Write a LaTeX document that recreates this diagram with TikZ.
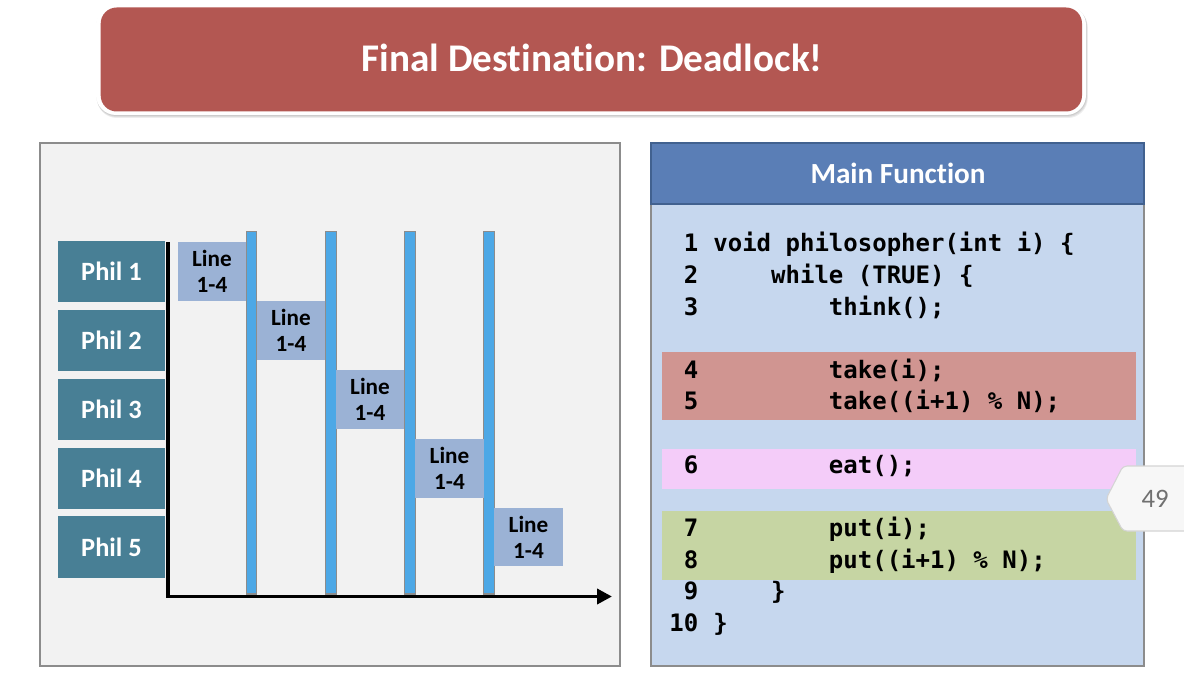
\documentclass[tikz,border=0pt]{standalone}
\usepackage{fontspec}
\setmainfont{Carlito}[Ligatures=NoCommon]
\newfontfamily\codefont{DejaVu Sans Mono}
\usetikzlibrary{arrows.meta}
\definecolor{titlered}{HTML}{B35752}
\definecolor{panelbg}{HTML}{F2F2F2}
\definecolor{panelline}{HTML}{8C8C8C}
\definecolor{philc}{HTML}{487F95}
\definecolor{linec}{HTML}{9BB2D5}
\definecolor{barc}{HTML}{4DA8E6}
\definecolor{headc}{HTML}{5A7EB6}
\definecolor{headline}{HTML}{41618F}
\definecolor{bodyc}{HTML}{C6D7EE}
\definecolor{redhl}{HTML}{D09591}
\definecolor{pinkhl}{HTML}{F4CCF9}
\definecolor{greenhl}{HTML}{C6D5A3}
\definecolor{tabfill}{HTML}{F7F7F7}
\definecolor{tabline}{HTML}{D4D4D4}
\definecolor{tabtext}{HTML}{707070}
\tikzset{
  philbox/.style={fill=philc, text=white, font=\bfseries\fontsize{19.8}{22}\selectfont,
    minimum width=80.25pt, minimum height=46.2pt, inner sep=0pt},
  linebox/.style={fill=linec, text=black, font=\bfseries\fontsize{17.4}{19.5}\selectfont,
    minimum width=51.4pt, minimum height=44pt, inner sep=0pt, align=center},
  barbox/.style={fill=barc, draw=panelline, line width=0.8pt},
  axisline/.style={line width=2.8pt, black, -{Triangle[length=11.25pt,width=11.25pt]}},
  codetxt/.style={font=\codefont\bfseries\fontsize{18}{20}\selectfont, inner sep=0pt, text=black},
}
\newcommand\codeln[5]{%
  \node[codetxt, anchor=base east] (n#1) at (698.6, {251.7+31.65*#2}) {#3};
  \node[codetxt, anchor=base west] (c#1) at ({684.2+14.45*(#4-1)}, {251.7+31.65*#2}) {#5};}
\begin{document}
\begin{tikzpicture}[x=0.75pt,y=-0.75pt]
\useasboundingbox[fill=white] (0,0) rectangle (1184,681);
% title
\foreach \o in {1,2,3}{
  \fill[black, opacity=0.07, rounded corners=15] (96+0.3*\o,5+0.8*\o) rectangle (1086+0.6*\o,115+1*\o);
}
\fill[white, rounded corners=15] (96,5) rectangle (1086,115);
\fill[titlered, rounded corners=12] (100.7,7.5) rectangle (1082,111.5);
\node[font=\bfseries\fontsize{29.4}{34}\selectfont, text=white, anchor=base, inner sep=0pt] (title) at (592,71.7) {Final Destination: Deadlock!};
% left panel
\draw[fill=panelbg, draw=panelline, line width=1.6pt] (40,143) rectangle (620,666);
\node[philbox] (phil1) at (111.5,271.3) {Phil 1};
\node[philbox] (phil2) at (111.5,340.5) {Phil 2};
\node[philbox] (phil3) at (111.5,409.3) {Phil 3};
\node[philbox] (phil4) at (111.5,478.5) {Phil 4};
\node[philbox] (phil5) at (111.5,547.0) {Phil 5};
% bars
\foreach \bx in {251.5,331,410,489}{
  \draw[barbox] (\bx-5.25,231.8) rectangle (\bx+5.25,594);
}
\node[linebox] (l1) at (212,271.3) {Line\\1-4};
\node[linebox] (l2) at (291,330.5) {Line\\1-4};
\node[linebox] (l3) at (370,399.3) {Line\\1-4};
\node[linebox] (l4) at (449.5,468.3) {Line\\1-4};
\node[linebox] (l5) at (528.5,537.1) {Line\\1-4};
% axes
\coordinate (ytop) at (168,242);
\coordinate (origin) at (168,596.5);
\coordinate (xend) at (612,596.5);
\draw[axisline] (ytop) -- (origin) -- (xend);
% right panel
\draw[fill=bodyc, draw=panelline, line width=1.6pt] (651,143) rectangle (1144,666);
\draw[fill=headc, draw=headline, line width=1.6pt] (651,143) rectangle (1144,204);
\node[font=\bfseries\fontsize{21.9}{26}\selectfont, text=white, anchor=base, inner sep=0pt] (mainf) at (898,183.5) {Main Function};
\fill[redhl] (661.5,351.5) rectangle (1135.5,420);
\fill[pinkhl] (661.5,449) rectangle (1135.5,489);
\fill[greenhl] (661.5,511) rectangle (1135.5,580);
\codeln{1}{0}{1}{3}{void philosopher(int i) \{}
\codeln{2}{1}{2}{7}{while (TRUE) \{}
\codeln{3}{2}{3}{11}{think();}
\codeln{4}{4}{4}{11}{take(i);}
\codeln{5}{5}{5}{11}{take((i+1) \% N);}
\codeln{6}{7}{6}{11}{eat();}
\codeln{7}{9}{7}{11}{put(i);}
\codeln{8}{10}{8}{11}{put((i+1) \% N);}
\codeln{9}{11}{9}{7}{\}}
\codeln{10}{12}{10}{3}{\}}
% page tab
\draw[fill=tabfill, draw=tabline, line width=0.8pt, rounded corners=3] (1190,466) -- (1123,466) -- (1106,499) -- (1123,531) -- (1190,531);
\node[font=\fontsize{20}{24}\selectfont, text=tabtext, inner sep=0pt] (page) at (1155,499) {49};
\end{tikzpicture}
\end{document}
